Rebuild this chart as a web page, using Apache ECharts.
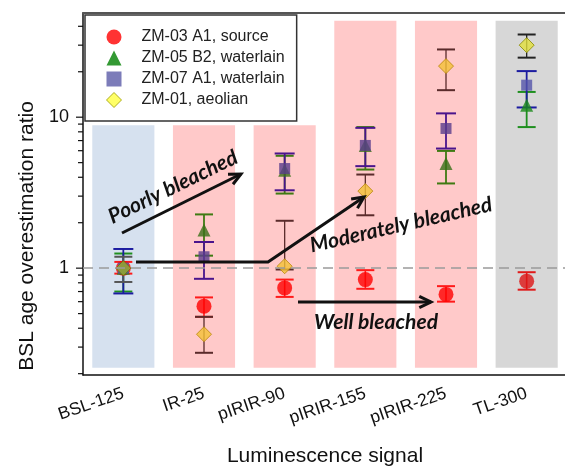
<!DOCTYPE html>
<html><head><meta charset="utf-8">
<script src="https://cdn.jsdelivr.net/npm/echarts@6/dist/echarts.min.js"></script>
<style>html,body{margin:0;padding:0;background:#fff}#c{width:565px;height:468px}</style>
</head><body><div id="c"></div>
<script>
// ---- data ----
const categories = ['BSL-125', 'IR-25', 'pIRIR-90', 'pIRIR-155', 'pIRIR-225', 'TL-300'];
const seriesNames = ['ZM-03 A1, source', 'ZM-05 B2, waterlain', 'ZM-07 A1, waterlain', 'ZM-01, aeolian'];

const zm03 = [1.00, 0.56, 0.74, 0.84, 0.67, 0.82];
const zm03Low = [0.92, 0.476, 0.645, 0.73, 0.60, 0.72];
const zm03High = [1.10, 0.64, 0.84, 0.97, 0.76, 0.94];

const zm05 = [1.00, 1.79, 4.46, 6.5, 4.94, 12.0];
const zm05Low = [0.70, 1.21, 3.12, 4.5, 3.64, 8.6];
const zm05High = [1.25, 2.27, 5.55, 8.6, 5.98, 14.7];

const zm07 = [1.00, 1.19, 4.57, 6.5, 8.42, 16.3];
const zm07Low = [0.68, 0.85, 3.28, 4.74, 6.2, 11.6];
const zm07High = [1.34, 1.49, 5.75, 8.5, 10.6, 20.2];

const zm01 = [1.00, 0.365, 1.03, 3.24, 21.8, 30.0];
const zm01Low = [0.81, 0.275, 0.98, 2.24, 15.1, 24.8];
const zm01High = [1.19, 0.476, 2.06, 4.17, 28.1, 35.3];

const shadeTop = [8.84, 8.84, 8.84, 43.6, 43.6, 43.6];
const shadeBottom = 0.219;
const yMajorTicks = [1, 10];
const yMinorTicks = [0.2, 0.3, 0.4, 0.5, 0.6, 0.7, 0.8, 0.9, 2, 3, 4, 5, 6, 7, 8, 9, 20, 30, 40];
const referenceLine = 1;

// ---- styles ----
const shadeColors = ['#d6e1ef', '#ffc9c9', '#ffc9c9', '#ffc9c9', '#ffc9c9', '#d7d7d7'];
const errColors = [
  i => i === 5 ? '#e01a1a' : '#ff1a1a',
  i => (i === 0 || i === 5) ? '#1f8f1f' : '#3f7a12',
  i => (i === 0 || i === 5) ? '#1c1ca0' : '#4a148c',
  i => i === 0 ? '#555555' : (i === 5 ? '#222222' : '#5a2b2b')
];
const errWidth = [1.6, 1.8, 1.8, 1.3];
const capHalf = [9, 9, 10, 9];

function errSeries(k, low, high) {
  return {
    type: 'custom', z: 3, clip: false, silent: true,
    encode: { x: 0, y: [1, 2] },
    data: categories.map((c, i) => [i, low[i], high[i]]),
    renderItem: function (params, api) {
      const i = api.value(0);
      const lo = api.coord([i, api.value(1)]);
      const hi = api.coord([i, api.value(2)]);
      const col = errColors[k](i);
      const lw = errWidth[k], h = capHalf[k];
      return { type: 'group', children: [
        { type: 'line', shape: { x1: lo[0], y1: lo[1], x2: hi[0], y2: hi[1] }, style: { stroke: col, lineWidth: lw } },
        { type: 'line', shape: { x1: lo[0] - h, y1: lo[1], x2: lo[0] + h, y2: lo[1] }, style: { stroke: col, lineWidth: 2 } },
        { type: 'line', shape: { x1: hi[0] - h, y1: hi[1], x2: hi[0] + h, y2: hi[1] }, style: { stroke: col, lineWidth: 2 } }
      ]};
    }
  };
}

function markerStyle(k, i) {
  if (k === 0) return { color: i === 5 ? '#dd1515' : '#ff0000' };
  if (k === 1) return { color: (i === 0 || i === 5) ? '#1a8a1a' : '#3a7018' };
  if (k === 2) return { color: (i === 0 || i === 5) ? '#5555aa' : '#5a3d8c', opacity: 0.8 };
  if (i === 0) return { color: '#9aab2a', borderColor: '#6b7a10', borderWidth: 1 };
  if (i === 5) return { color: '#e2e03c', borderColor: '#8a8a00', borderWidth: 1 };
  return { color: '#f4c236', borderColor: '#b8860b', borderWidth: 1 };
}

const symbols = ['circle', 'triangle', 'rect', 'diamond'];
const symbolSizes = [15, 13, 11, 15];
const legendColors = [
  { color: '#ff0000' },
  { color: '#008000' },
  { color: '#5b5ba8' },
  { color: '#ffff40', borderColor: '#9a9a00', borderWidth: 1 }
];
const allVals = [zm03, zm05, zm07, zm01];
const allLow = [zm03Low, zm05Low, zm07Low, zm01Low];
const allHigh = [zm03High, zm05High, zm07High, zm01High];

const series = [];
// shaded bands
series.push({
  type: 'custom', z: 1, silent: true, clip: false,
  encode: { x: 0, y: [1, 2] },
  data: categories.map((c, i) => [i, shadeTop[i], shadeBottom]),
  renderItem: function (params, api) {
    const i = api.value(0);
    const t = api.coord([i, api.value(1)]);
    const b = api.coord([i, api.value(2)]);
    const bw = api.coord([1, 1])[0] - api.coord([0, 1])[0];
    const w = bw * 0.77;
    return { type: 'rect', shape: { x: t[0] - w / 2, y: t[1], width: w, height: b[1] - t[1] }, style: { fill: shadeColors[i] } };
  }
});
// y-axis ticks (major + minor, log spaced)
series.push({
  type: 'custom', z: 5, silent: true, clip: false,
  data: yMajorTicks.map(v => [0, v, 1]).concat(yMinorTicks.map(v => [0, v, 0])),
  renderItem: function (params, api) {
    const p = api.coord([0, api.value(1)]);
    const bw = api.coord([1, 1])[0] - api.coord([0, 1])[0];
    const x = p[0] - bw / 2;
    const len = api.value(2) ? 7 : 5;
    return { type: 'line', shape: { x1: x - len, y1: p[1], x2: x, y2: p[1] }, style: { stroke: '#111', lineWidth: 1.2 } };
  }
});
// dashed reference line
series.push({
  type: 'line', z: 2, data: [], silent: true,
  markLine: {
    silent: true, symbol: 'none', label: { show: false },
    lineStyle: { color: '#9a9a9a', type: [10, 6], width: 1.5 },
    data: [{ yAxis: referenceLine }]
  }
});
for (let k = 0; k < 4; k++) series.push(errSeries(k, allLow[k], allHigh[k]));
for (let k = 0; k < 4; k++) {
  series.push({
    name: seriesNames[k], type: 'scatter', z: 4,
    symbol: symbols[k], symbolSize: symbolSizes[k],
    itemStyle: legendColors[k],
    data: allVals[k].map((v, i) => ({ value: [i, v], itemStyle: markerStyle(k, i) }))
  });
}

// annotation arrows
function arrowHead(x1, y1, x2, y2) {
  const a = Math.atan2(y2 - y1, x2 - x1), len = 13, ang = Math.PI / 7;
  return [[x2 - len * Math.cos(a - ang), y2 - len * Math.sin(a - ang)], [x2, y2], [x2 - len * Math.cos(a + ang), y2 - len * Math.sin(a + ang)]];
}
function arrow(pts) {
  const n = pts.length;
  const st = { stroke: '#111', lineWidth: 3, fill: null, lineJoin: 'miter' };
  return [
    { type: 'polyline', z: 10, shape: { points: pts }, style: st },
    { type: 'polyline', z: 10, shape: { points: arrowHead(pts[n - 2][0], pts[n - 2][1], pts[n - 1][0], pts[n - 1][1]) }, style: st }
  ];
}
function label(text, x, y, deg) {
  return { type: 'text', z: 10, x: x, y: y, rotation: deg * Math.PI / 180,
    style: { text: text, font: 'italic bold 21px Lato', fill: '#111', align: 'center', verticalAlign: 'middle' } };
}
const graphics = [].concat(
  arrow([[122, 233], [241, 174]]),
  arrow([[136, 262], [268, 262], [364, 197]]),
  arrow([[298, 302], [431, 302]]),
  [label('Poorly bleached', 173, 187, 26),
   label('Moderately bleached', 401, 225, 13),
   label('Well bleached', 376, 322, 0)]
);

const chart = echarts.init(document.getElementById('c'));
chart.setOption({
  animation: false,
  backgroundColor: '#fff',
  grid: { left: 83, top: 13, width: 484, height: 362, outerBoundsMode: 'none' },
  legend: {
    orient: 'vertical', left: 85, top: 15,
    backgroundColor: '#fff', borderColor: '#333', borderWidth: 1.5, borderRadius: 0,
    padding: [14, 12, 13, 21], itemGap: 5, itemWidth: 15, itemHeight: 15, symbolKeepAspect: true,
    textStyle: { fontSize: 16, fontFamily: 'Liberation Sans', color: '#222', padding: [0, 0, 0, 15] },
    data: seriesNames.map((n, k) => ({ name: n, icon: symbols[k], itemStyle: legendColors[k] }))
  },
  xAxis: [{
    type: 'category', data: categories, gridIndex: 0,
    axisLine: { lineStyle: { color: '#111', width: 1.5 } },
    axisTick: { alignWithLabel: true, length: 5, lineStyle: { color: '#111', width: 1.2 } },
    axisLabel: { rotate: 19, fontSize: 17.5, margin: 18, color: '#111', fontFamily: 'Liberation Sans', interval: 0 },
    splitLine: { show: false },
    name: 'Luminescence signal', nameLocation: 'middle', nameGap: 71,
    nameTextStyle: { fontSize: 21, color: '#111', fontFamily: 'Liberation Sans' }
  }, {
    type: 'category', data: categories, gridIndex: 0, position: 'top',
    axisLine: { lineStyle: { color: '#555', width: 2 } },
    axisTick: { show: false }, axisLabel: { show: false }, splitLine: { show: false }
  }],
  yAxis: {
    type: 'log', logBase: 10, min: 0.196, max: 49,
    axisLine: { show: true, lineStyle: { color: '#111', width: 1.5 } },
    axisTick: { show: false }, splitLine: { show: false }, minorTick: { show: false },
    axisLabel: {
      fontSize: 18, color: '#111', margin: 14, fontFamily: 'Liberation Sans',
      formatter: function (v) {
        for (const t of yMajorTicks) if (Math.abs(v - t) < 1e-6 * t) return String(t);
        return '';
      }
    },
    name: 'BSL age overestimation ratio', nameLocation: 'middle', nameGap: 45,
    nameTextStyle: { fontSize: 21, color: '#111', fontFamily: 'Liberation Sans', padding: [0, 84, 0, 0] }
  },
  series: series,
  graphic: { elements: graphics }
});
</script>
</body></html>
